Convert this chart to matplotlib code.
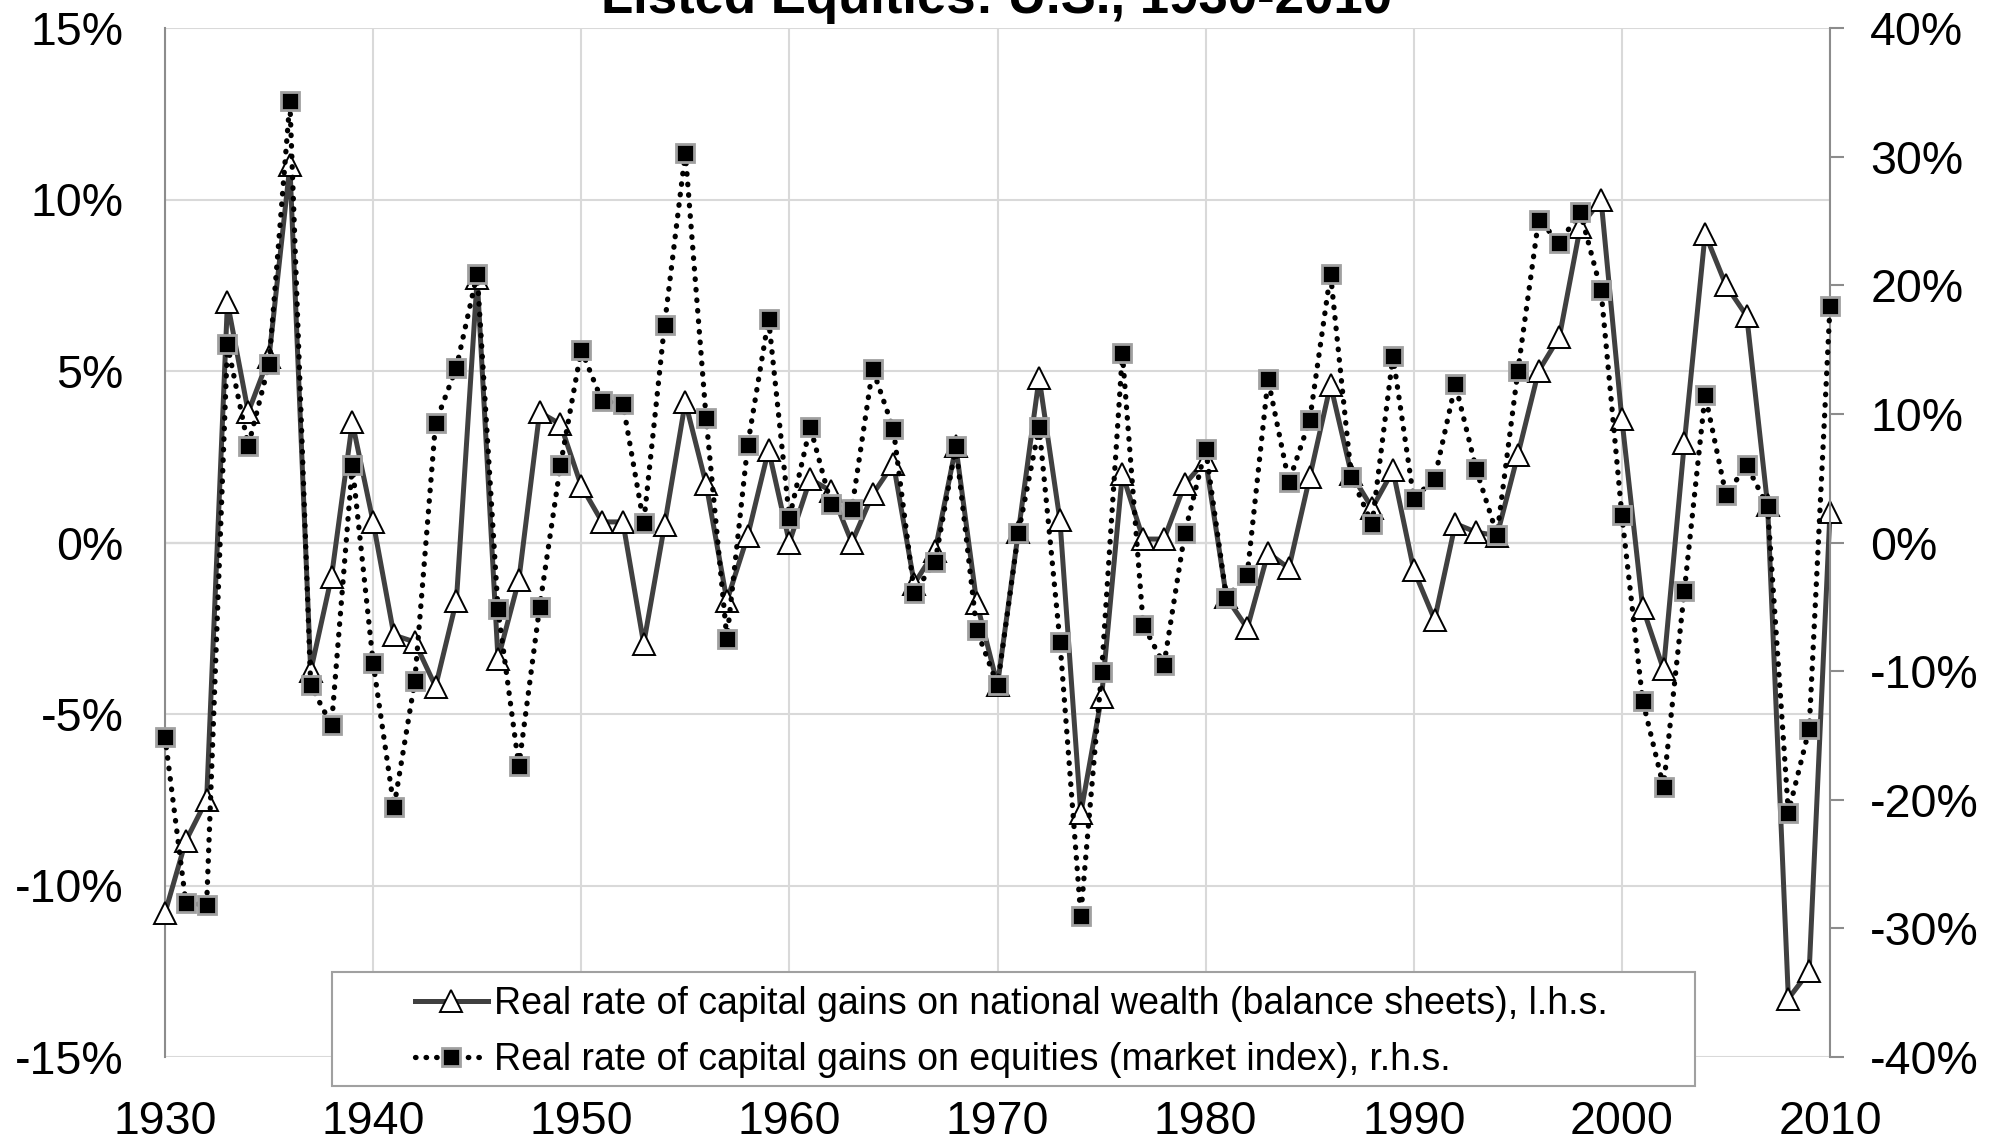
import matplotlib
matplotlib.use("Agg")
import matplotlib.pyplot as plt
from matplotlib.patches import Rectangle
import numpy as np

plt.rcParams['font.family'] = ['Liberation Sans', 'DejaVu Sans']

years = list(range(1930, 2011))

nat_wealth = [
    -10.8, -8.7, -7.5, 7.0, 3.8, 5.4, 11.0, -3.75, -1.0, 3.5,      # 1930-39
    0.6, -2.7, -2.9, -4.2, -1.7, 7.7, -3.4, -1.1, 3.8, 3.45,        # 1940-49
    1.65, 0.6, 0.6, -2.95, 0.5, 4.1, 1.7, -1.7, 0.2, 2.7,           # 1950-59
    0.0, 1.85, 1.5, 0.0, 1.4, 2.3, -1.2, -0.25, 2.8, -1.75,         # 1960-69
    -4.15, 0.3, 4.8, 0.65, -7.9, -4.5, 2.0, 0.1, 0.1, 1.7,          # 1970-79
    2.4, -1.6, -2.5, -0.3, -0.75, 1.9, 4.6, 2.0, 1.0, 2.1,          # 1980-89
    -0.8, -2.25, 0.55, 0.3, 0.2, 2.55, 5.0, 6.0, 9.2, 10.0,         # 1990-99
    3.6, -1.9, -3.7, 2.9, 9.0, 7.5, 6.6, 1.1, -13.3, -12.5,         # 2000-09
    0.9,                                                            # 2010
]

equities = [
    -15.1, -28.0, -28.2, 15.4, 7.5, 13.9, 34.3, -11.1, -14.2, 6.0,
    -9.35, -20.6, -10.8, 9.3, 13.6, 20.9, -5.2, -17.4, -5.0, 6.0,
    15.0, 11.0, 10.8, 1.5, 16.9, 30.3, 9.65, -7.5, 7.6, 17.4,
    1.9, 9.0, 3.0, 2.6, 13.5, 8.8, -3.9, -1.5, 7.5, -6.8,
    -11.1, 0.7, 9.0, -7.7, -29.0, -10.1, 14.7, -6.4, -9.5, 0.75,
    7.3, -4.3, -2.5, 12.7, 4.7, 9.5, 20.9, 5.1, 1.45, 14.5,
    3.4, 4.95, 12.3, 5.7, 0.6, 13.3, 25.1, 23.3, 25.7, 19.6,
    2.1, -12.3, -19.0, -3.8, 11.5, 3.7, 6.0, 2.8, -21.0, -14.5,
    18.4,
]

x_ticks = [1930, 1940, 1950, 1960, 1970, 1980, 1990, 2000, 2010]
left_ticks = [-15, -10, -5, 0, 5, 10, 15]
right_ticks = [-40, -30, -20, -10, 0, 10, 20, 30, 40]

title = "Listed Equities: U.S., 1930-2010"
label_a = "Real rate of capital gains on national wealth (balance sheets), l.h.s."
label_b = "Real rate of capital gains on equities (market index), r.h.s."

W, H = 2004, 1142
fig = plt.figure(figsize=(W / 100, H / 100), dpi=100)
ax = fig.add_axes([165 / W, 1 - 1057 / H, (1830 - 165) / W, (1057 - 28) / H])
ax2 = ax.twinx()

grid_c = '#d9d9d9'
spine_c = '#8c8c8c'

ax.set_xlim(1930, 2010)
ax.set_ylim(-15, 15)
ax2.set_ylim(-40, 40)
ax.set_xticks(x_ticks)
ax.set_yticks(left_ticks)
ax2.set_yticks(right_ticks)
ax.set_xticklabels([str(v) for v in x_ticks])
ax.set_yticklabels([f"{v}%" for v in left_ticks])
ax2.set_yticklabels([f"{v}%" for v in right_ticks])

ax.set_axisbelow(True)
ax.grid(True, color=grid_c, lw=1.5, zorder=0)
ax.axhline(0, color='#8c8c8c', lw=1.5, zorder=0.5)

for s in ['top', 'bottom', 'right']:
    ax.spines[s].set_visible(False)
ax.spines['left'].set_color(spine_c)
ax.spines['left'].set_linewidth(1.5)
for s in ['top', 'bottom', 'left']:
    ax2.spines[s].set_visible(False)
ax2.spines['right'].set_color(spine_c)
ax2.spines['right'].set_linewidth(1.5)

ax.tick_params(axis='y', length=0, pad=30, labelsize=33.5)
ax.tick_params(axis='x', length=0, pad=31, labelsize=33.5)
ax2.tick_params(axis='y', length=10, width=1.5, color=spine_c, direction='out',
                pad=19, labelsize=33.5)

line_a, = ax.plot(years, nat_wealth, color='#404040', lw=3.6, marker='^',
                  markersize=16, markerfacecolor='white',
                  markeredgecolor='black', markeredgewidth=1.4, zorder=3,
                  clip_on=False)
line_b, = ax2.plot(years, equities, color='black', lw=3.8,
                   linestyle=(0, (0.1, 1.9)), dash_capstyle='round',
                   marker='s', markersize=13.5, markerfacecolor='black',
                   markeredgecolor='#a0a0a0', markeredgewidth=2, zorder=3,
                   clip_on=False)

fig.text(997 / W, 1 - 13 / H, title, ha='center', va='baseline',
         fontsize=38, fontweight='bold')

rect = Rectangle((332 / W, 1 - 1086 / H), (1695 - 332) / W, (1086 - 972) / H,
                 transform=fig.transFigure, facecolor='white',
                 edgecolor='#a0a0a0', lw=1.5, zorder=4)
fig.patches.append(rect)

leg = fig.legend([line_a, line_b], [label_a, label_b], loc='center',
                 bbox_to_anchor=(1011 / W, 1 - 1032 / H), frameon=False,
                 fontsize=27, handlelength=1.95, handletextpad=0.16,
                 labelspacing=0.55, borderpad=0)
leg.set_zorder(5)

fig.savefig("out.png", dpi=100)
